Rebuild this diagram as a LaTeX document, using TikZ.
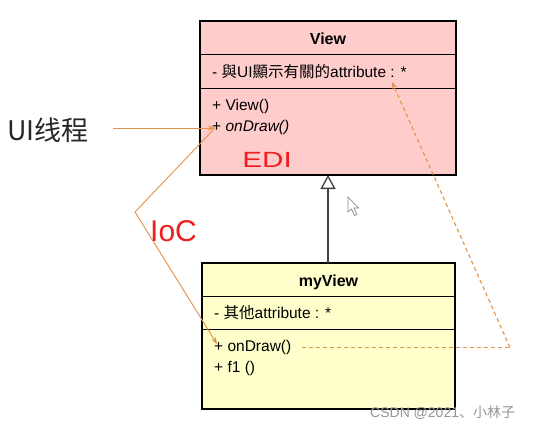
\documentclass[tikz,border=0pt]{standalone}
\usepackage{fontspec}
\setmainfont{Liberation Sans}
\newfontfamily\cjktc{Noto Sans CJK TC}
\newfontfamily\cjksc{Noto Sans CJK SC}
\usetikzlibrary{arrows.meta}
\definecolor{pinkfill}{RGB}{255,204,204}
\definecolor{yelfill}{RGB}{255,255,204}
\definecolor{orangeln}{RGB}{228,146,72}
\definecolor{handred}{RGB}{240,30,30}
\definecolor{wmgray}{RGB}{150,150,150}
\tikzset{
  compart/.style={draw=black, line width=1.3pt, minimum width=256pt, anchor=north west, inner sep=0pt},
  outerbox/.style={draw=black, line width=2.2pt},
  member/.style={anchor=west, inner sep=0pt, font=\fontsize{15.5}{17}\selectfont},
  titletxt/.style={font=\fontsize{16}{18}\selectfont\bfseries},
  orangearrow/.style={draw=orangeln, line width=0.9pt, -{Stealth[length=7pt,width=5pt]}},
  orangedash/.style={draw=orangeln, line width=1.1pt, dash pattern=on 4pt off 3pt},
  hand/.style={text=handred, inner sep=0pt},
}
\begin{document}
\begin{tikzpicture}[x=1pt,y=-1pt]
\useasboundingbox[fill=white] (0,0) rectangle (536,429);
% ---------- View class ----------
\fill[pinkfill] (200,21) rectangle (456,175);
\node[compart, minimum height=33pt] (vt) at (200,21) {};
\node[titletxt] (vtitle) at (328,39) {View};
\node[compart, minimum height=34pt] (va) at (200,54) {};
\node[compart, minimum height=87pt] (vm) at (200,88) {};
\draw[outerbox] (200,21) rectangle (456,175);
\node[member] (vattr) at (212,72) {- {\cjktc 與}UI{\cjktc 顯示有關的}attribute : *};
\node[member] (vctor) at (212,106) {+ View()};
\node[member] (vod) at (212,127) {+ \textit{onDraw()}};
\coordinate (vbot) at (328,175);
% ---------- myView class ----------
\fill[yelfill] (202,263) rectangle (455,409);
\node[compart, minimum width=253pt, minimum height=33pt] (mt) at (202,263) {};
\node[titletxt] (mtitle) at (328.5,282) {myView};
\node[compart, minimum width=253pt, minimum height=33pt] (ma) at (202,296) {};
\node[compart, minimum width=253pt, minimum height=80pt] (mm) at (202,329) {};
\draw[outerbox] (202,263) rectangle (455,409);
\node[member] (mattr) at (214,313) {- {\cjktc 其他}attribute : *};
\node[member] (mod) at (214,347) {+ onDraw()};
\node[member] (mf1) at (214,368) {+ f1 ()};
\coordinate (mtop) at (328,263);
% ---------- inheritance ----------
\draw[line width=1.5pt, draw=black!75, -{Triangle[open, length=14pt, width=15pt, line width=1.3pt]}] (mtop) -- (vbot);
% ---------- UI thread label ----------
\node[anchor=west, inner sep=0pt, font=\fontsize{27}{29}\selectfont\cjksc, text=black!85] (ui) at (7,130) {UI线程};
\coordinate (uistart) at (113,128);
\coordinate (vodtip) at (215,128);
\draw[orangearrow] (uistart) -- (vodtip);
% ---------- IoC call path ----------
\coordinate (bend) at (135,212);
\coordinate (modtip) at (217,344);
\draw[draw=orangeln, line width=0.9pt] (vodtip) -- (bend);
\draw[orangearrow] (bend) -- (modtip);
% ---------- override dashed link ----------
\coordinate (dstart) at (302,347.5);
\coordinate (dcorner) at (510,347.5);
\coordinate (attrtip) at (392,82);
\draw[orangedash] (dstart) -- (dcorner);
\draw[orangedash, -{Stealth[length=7pt,width=5pt]}] (dcorner) -- (attrtip);
% ---------- handwriting ----------
\node[hand, anchor=west, font=\fontsize{22}{22}\selectfont, xscale=1.35] (edi) at (242,160) {EDI};
\node[hand, anchor=west, font=\fontsize{30}{30}\selectfont] (ioc) at (150,231) {IoC};
% ---------- mouse cursor ----------
\draw[draw=black!45, fill=white, line width=0.7pt]
  (348,197) -- (348,212) -- (351.5,209) -- (354.5,215.5) -- (357,214.5) -- (354,208) -- (358.5,208) -- cycle;
% ---------- watermark ----------
\node[anchor=west, inner sep=0pt, text=wmgray, font=\fontsize{14}{15}\selectfont] (wm) at (370,413) {CSDN @2021{\cjksc 、小林子}};
\end{tikzpicture}
\end{document}
